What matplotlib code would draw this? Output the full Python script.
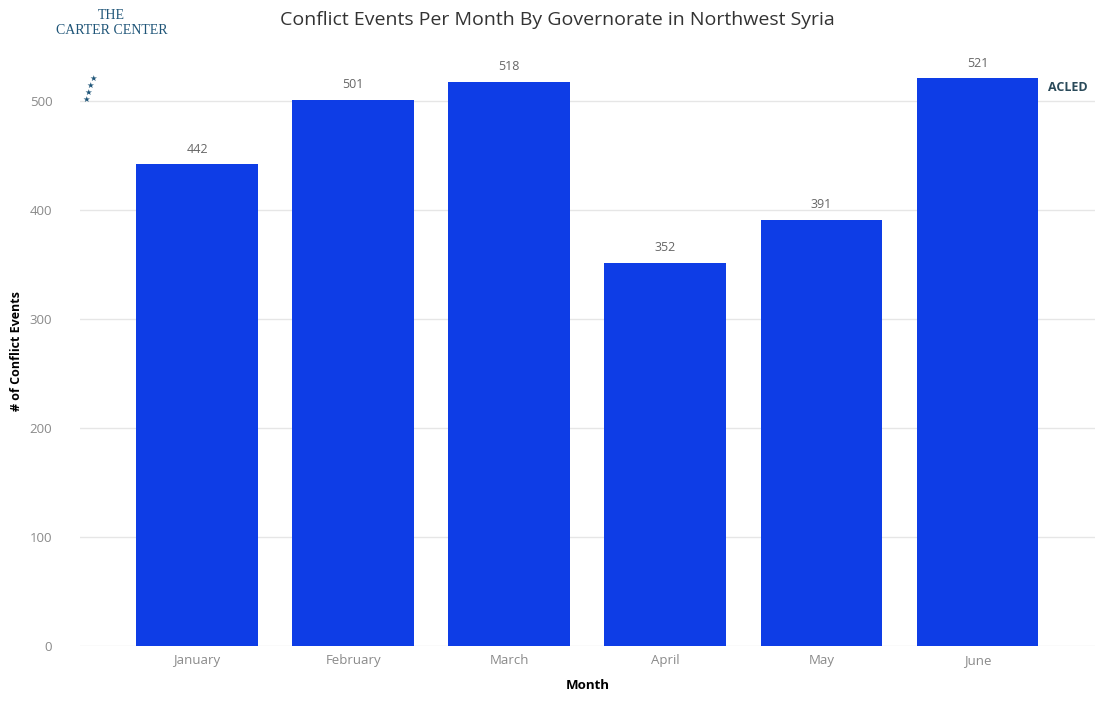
import matplotlib
matplotlib.use("Agg")
import matplotlib.pyplot as plt

months = ["January", "February", "March", "April", "May", "June"]
events = [442, 501, 518, 352, 391, 521]
y_ticks = [0, 100, 200, 300, 400, 500]

plt.rcParams["font.family"] = ["Open Sans", "DejaVu Sans"]

fig = plt.figure(figsize=(11.04, 7.03), dpi=100)
ax = fig.add_axes([0.0725, 0.081, 0.919, 0.837])

x = range(len(months))
bars = ax.bar(x, events, width=0.78, color="#0e3de6", zorder=3)

# value labels above the bars
for b, v in zip(bars, events):
    ax.text(b.get_x() + b.get_width() / 2, v + 8, str(v), ha="center", va="bottom",
            fontsize=9, color="#666666")

ax.set_xlim(-0.75, 5.75)
ax.set_ylim(0, 540)
ax.set_xticks(list(x))
ax.set_xticklabels(months)
ax.set_yticks(y_ticks)
ax.tick_params(axis="both", length=0, labelsize=9.5, labelcolor="#8a8a8a")
ax.tick_params(axis="y", pad=20)
ax.tick_params(axis="x", pad=6)
ax.grid(axis="y", color="#e6e6e6", linewidth=1, zorder=0)
for s in ax.spines.values():
    s.set_visible(False)

ax.set_xlabel("Month", fontsize=9.5, fontweight="bold", color="black", labelpad=8)
fig.text(0.015, 0.5, "# of Conflict Events", rotation=90, ha="center", va="center",
         fontsize=9, fontweight="bold", color="black")

fig.text(0.505, 0.972, "Conflict Events Per Month By Governorate in Northwest Syria",
         ha="center", va="center", fontsize=14, color="#333333")

# logos (text approximations)
fig.text(0.101, 0.978, "THE", ha="center", va="center", fontsize=10,
         family="Liberation Serif", color="#1f5578")
fig.text(0.101, 0.957, "CARTER CENTER", ha="center", va="center", fontsize=10,
         family="Liberation Serif", color="#1f5578")
for sx, sy in [(0.0842, 0.889), (0.0817, 0.878), (0.0797, 0.868), (0.0779, 0.858)]:
    fig.text(sx, sy, "★", ha="center", va="center", fontsize=6,
             color="#1f5578", family="DejaVu Sans")
fig.text(0.967, 0.876, "ACLED", ha="center", va="center", fontsize=9,
         fontweight="bold", color="#2a4a5a")

fig.savefig("out.png", dpi=100)
